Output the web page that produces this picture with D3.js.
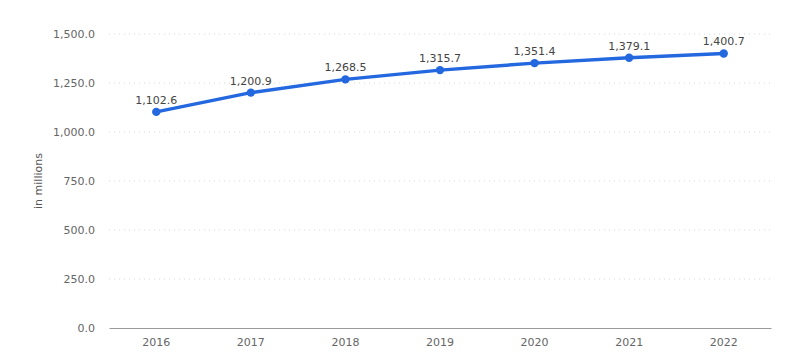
<!DOCTYPE html>
<html><head><meta charset="utf-8">
<script src="https://cdn.jsdelivr.net/npm/d3@7"></script>
<style>body{margin:0;background:#fff;} svg{display:block;font-family:"DejaVu Sans",sans-serif;}</style>
</head><body>
<svg id="c" width="788" height="361"></svg>
<script>
const years = ["2016","2017","2018","2019","2020","2021","2022"];
const values = [1102.6,1200.9,1268.5,1315.7,1351.4,1379.1,1400.7];
const yTicks = [0,250,500,750,1000,1250,1500];
const yLabel = "in millions";

const svg = d3.select("#c");
const m = {left:109,right:17,top:34,bottom:33};
const W = 788, H = 361;
const x = d3.scaleBand().domain(years).range([m.left, W-m.right]);
const y = d3.scaleLinear().domain([0,1500]).range([H-m.bottom, m.top]);
const fmt = d3.format(",.1f");

// grid
svg.append("g").selectAll("line").data(yTicks.filter(d=>d>0)).join("line")
  .attr("x1",m.left).attr("x2",W-m.right)
  .attr("y1",d=>y(d)).attr("y2",d=>y(d))
  .attr("stroke","#d8d8d8").attr("stroke-dasharray","1,4").attr("stroke-width",1);

// y axis labels
const ya = svg.append("g").attr("transform",`translate(${m.left},0)`)
  .call(d3.axisLeft(y).tickValues(yTicks).tickFormat(fmt).tickSize(0).tickPadding(14));
ya.select(".domain").remove();
ya.selectAll("text").attr("fill","#666").style("font-size","11px").style("font-family","DejaVu Sans, sans-serif");

// x axis
const xa = svg.append("g").attr("transform",`translate(0,${y(0)})`)
  .call(d3.axisBottom(x).tickSize(0).tickPadding(10));
xa.select(".domain").attr("stroke","#999").attr("stroke-width",1);
xa.selectAll("text").attr("fill","#666").style("font-size","11px").style("font-family","DejaVu Sans, sans-serif");

// y label
svg.append("text").attr("transform",`translate(42,${(y(0)+y(1500))/2}) rotate(-90)`)
  .attr("text-anchor","middle").attr("fill","#555").style("font-size","11px").text(yLabel);

const cx = d => x(d)+x.bandwidth()/2;
const line = d3.line().x((d,i)=>cx(years[i])).y(d=>y(d));
svg.append("path").datum(values).attr("d",line).attr("fill","none")
  .attr("stroke","#2468e0").attr("stroke-width",3.5).attr("stroke-linejoin","round");
svg.append("g").selectAll("circle").data(values).join("circle")
  .attr("cx",(d,i)=>cx(years[i])).attr("cy",d=>y(d)).attr("r",4.2).attr("fill","#2468e0");
svg.append("g").selectAll("text").data(values).join("text")
  .attr("x",(d,i)=>cx(years[i])).attr("y",d=>y(d)-8)
  .attr("text-anchor","middle").attr("fill","#444").style("font-size","11px").text(d=>fmt(d));
</script>
</body></html>
